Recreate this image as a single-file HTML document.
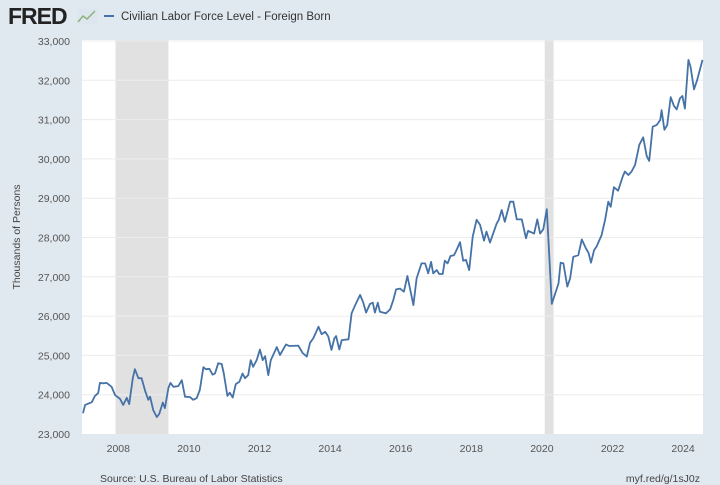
<!DOCTYPE html>
<html><head><meta charset="utf-8"><style>
html,body{margin:0;padding:0;width:720px;height:485px;overflow:hidden;background:#e1e9f0;font-family:"Liberation Sans",sans-serif;}
svg{display:block}
</style></head><body>
<svg id="chart" width="720" height="485">
  <text x="8" y="24" font-size="23" font-weight="bold" fill="#222" style="letter-spacing:-1px">FRED</text>
  <g>
    <rect x="77" y="9" width="20" height="15" fill="#dde6ee"/>
    <polyline points="78,22 83,16 87,19 95,11" fill="none" stroke="#8fb27a" stroke-width="1.5"/>
  </g>
  <line x1="104" y1="16" x2="114" y2="16" stroke="#4572a7" stroke-width="2"/>
  <text x="121" y="20" font-size="11.5" fill="#333">Civilian Labor Force Level - Foreign Born</text>
  <rect x="82" y="40" width="621" height="394" fill="#fff"/>
  <g id="rec"></g><g id="grid"></g><g id="ticks"></g><g id="series"></g>
  <text transform="translate(20,237) rotate(-90)" text-anchor="middle" font-size="10.5" fill="#444">Thousands of Persons</text>
  <text x="100" y="482" font-size="10.5" fill="#444">Source: U.S. Bureau of Labor Statistics</text>
  <text x="700" y="482" text-anchor="end" font-size="10.5" fill="#444">myf.red/g/1sJ0z</text>
</svg>
<script>
const years=[2007.0,2007.06,2007.25,2007.34,2007.43,2007.48,2007.57,2007.67,2007.81,2007.91,2008.05,2008.14,2008.24,2008.31,2008.41,2008.47,2008.57,2008.66,2008.76,2008.85,2008.90,2008.99,2009.09,2009.16,2009.26,2009.32,2009.42,2009.48,2009.56,2009.70,2009.80,2009.89,2010.03,2010.12,2010.22,2010.31,2010.41,2010.48,2010.58,2010.67,2010.74,2010.83,2010.93,2010.99,2011.09,2011.16,2011.24,2011.33,2011.43,2011.52,2011.59,2011.68,2011.75,2011.82,2011.92,2012.01,2012.09,2012.16,2012.25,2012.32,2012.49,2012.58,2012.75,2012.84,2013.10,2013.22,2013.34,2013.43,2013.52,2013.67,2013.76,2013.86,2013.95,2014.04,2014.12,2014.17,2014.26,2014.33,2014.52,2014.61,2014.71,2014.85,2014.94,2015.02,2015.13,2015.21,2015.27,2015.35,2015.41,2015.58,2015.70,2015.79,2015.87,2015.98,2016.09,2016.19,2016.36,2016.45,2016.59,2016.69,2016.78,2016.86,2016.92,2017.02,2017.09,2017.19,2017.25,2017.33,2017.41,2017.51,2017.58,2017.68,2017.77,2017.85,2017.94,2018.04,2018.15,2018.25,2018.36,2018.43,2018.53,2018.72,2018.78,2018.86,2018.95,2019.10,2019.19,2019.29,2019.43,2019.55,2019.61,2019.78,2019.87,2019.95,2020.04,2020.14,2020.28,2020.47,2020.53,2020.61,2020.72,2020.80,2020.89,2021.03,2021.13,2021.25,2021.32,2021.39,2021.48,2021.55,2021.69,2021.79,2021.88,2021.95,2022.04,2022.16,2022.29,2022.35,2022.45,2022.54,2022.64,2022.76,2022.87,2022.97,2023.04,2023.14,2023.25,2023.35,2023.39,2023.47,2023.55,2023.65,2023.74,2023.82,2023.91,2023.98,2024.05,2024.15,2024.21,2024.31,2024.40,2024.55];
const values=[23530,23740,23810,23970,24040,24300,24290,24300,24200,23990,23890,23740,23920,23760,24420,24650,24420,24420,24100,23870,23950,23610,23430,23510,23800,23660,24170,24300,24200,24220,24370,23950,23940,23870,23910,24120,24700,24650,24660,24510,24540,24800,24780,24540,23970,24050,23930,24270,24330,24540,24420,24500,24880,24710,24880,25150,24880,24980,24500,24880,25210,25010,25280,25240,25250,25060,24970,25320,25430,25730,25540,25600,25480,25140,25430,25490,25150,25390,25410,26070,26280,26540,26340,26090,26310,26340,26090,26340,26110,26070,26170,26410,26680,26700,26620,27020,26280,26960,27340,27340,27090,27380,27090,27170,27070,27070,27410,27340,27530,27550,27680,27880,27410,27430,27170,28020,28450,28320,27920,28150,27870,28360,28450,28700,28400,28910,28910,28460,28460,27980,28170,28100,28460,28100,28210,28720,26310,26830,27360,27340,26750,26960,27510,27550,27950,27720,27610,27360,27680,27770,28060,28450,28910,28780,29280,29190,29550,29680,29590,29680,29850,30360,30550,30070,29950,30820,30860,30990,31240,30740,30860,31570,31350,31260,31540,31600,31280,32520,32350,31770,32010,32520];
const yTicks=[23000,24000,25000,26000,27000,28000,29000,30000,31000,32000,33000];
const xTicks=[2008,2010,2012,2014,2016,2018,2020,2022,2024];
const recessions=[[2007.92,2009.42],[2020.08,2020.33]];
const NS='http://www.w3.org/2000/svg';
function X(yr){return 83+(yr-2007)*35.3;}
function Y(v){return 434-(v-23000)*0.0393;}
function mk(tag,attrs,parent){const e=document.createElementNS(NS,tag);for(const k in attrs)e.setAttribute(k,attrs[k]);document.getElementById(parent).appendChild(e);return e;}
recessions.forEach(r=>{const e=mk('rect',{x:X(r[0]),y:40,width:X(r[1])-X(r[0]),height:394,fill:'#e1e1e1'},'rec');

});
yTicks.forEach(v=>{if(v>23000){const l=mk('line',{x1:82,x2:703,y1:Y(v),y2:Y(v),stroke:'#ececec','stroke-width':1},'grid');

}
const t=mk('text',{x:70,y:Y(v)+4,'text-anchor':'end','font-size':'10.5',fill:'#555'},'ticks');t.textContent=v.toLocaleString('en-US');

});
xTicks.forEach(yr=>{const t=mk('text',{x:X(yr),y:452,'text-anchor':'middle','font-size':'10.5',fill:'#555'},'ticks');t.textContent=yr;

});
const pts=years.map((yr,i)=>X(yr).toFixed(1)+','+Y(values[i]).toFixed(1)).join(' ');
const pl=mk('polyline',{points:pts,fill:'none',stroke:'#4572a7','stroke-width':1.8,'stroke-linejoin':'round'},'series');


</script>
</body></html>
